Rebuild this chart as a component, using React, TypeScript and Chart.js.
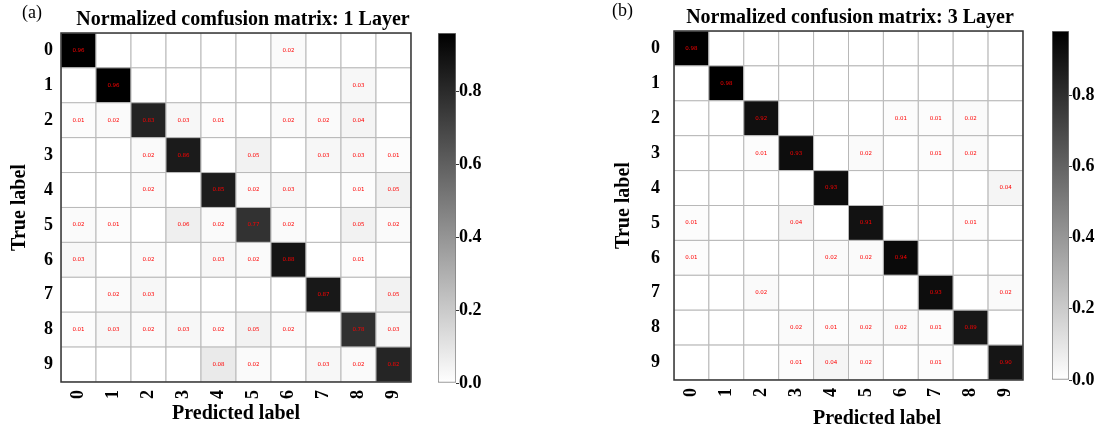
import React, { useEffect, useRef } from 'react';
import { Chart, registerables } from 'chart.js';

Chart.register(...registerables);

// ---------- data ----------
const classLabels = ['0', '1', '2', '3', '4', '5', '6', '7', '8', '9'];

// rows = true label, columns = predicted label
const layer1Matrix: number[][] = [
  [0.96, 0, 0, 0, 0, 0, 0.02, 0, 0, 0],
  [0, 0.96, 0, 0, 0, 0, 0, 0, 0.03, 0],
  [0.01, 0.02, 0.83, 0.03, 0.01, 0, 0.02, 0.02, 0.04, 0],
  [0, 0, 0.02, 0.86, 0, 0.05, 0, 0.03, 0.03, 0.01],
  [0, 0, 0.02, 0, 0.85, 0.02, 0.03, 0, 0.01, 0.05],
  [0.02, 0.01, 0, 0.06, 0.02, 0.77, 0.02, 0, 0.05, 0.02],
  [0.03, 0, 0.02, 0, 0.03, 0.02, 0.88, 0, 0.01, 0],
  [0, 0.02, 0.03, 0, 0, 0, 0, 0.87, 0, 0.05],
  [0.01, 0.03, 0.02, 0.03, 0.02, 0.05, 0.02, 0, 0.78, 0.03],
  [0, 0, 0, 0, 0.08, 0.02, 0, 0.03, 0.02, 0.82],
];

const layer3Matrix: number[][] = [
  [0.98, 0, 0, 0, 0, 0, 0, 0, 0, 0],
  [0, 0.98, 0, 0, 0, 0, 0, 0, 0, 0],
  [0, 0, 0.92, 0, 0, 0, 0.01, 0.01, 0.02, 0],
  [0, 0, 0.01, 0.93, 0, 0.02, 0, 0.01, 0.02, 0],
  [0, 0, 0, 0, 0.93, 0, 0, 0, 0, 0.04],
  [0.01, 0, 0, 0.04, 0, 0.91, 0, 0, 0.01, 0],
  [0.01, 0, 0, 0, 0.02, 0.02, 0.94, 0, 0, 0],
  [0, 0, 0.02, 0, 0, 0, 0, 0.93, 0, 0.02],
  [0, 0, 0, 0.02, 0.01, 0.02, 0.02, 0.01, 0.89, 0],
  [0, 0, 0, 0.01, 0.04, 0.02, 0, 0.01, 0, 0.90],
];

const layer1Max = 0.96;
const layer3Max = 0.98;
const colorbarTicks = [0, 0.2, 0.4, 0.6, 0.8];

const layer1Title = 'Normalized comfusion matrix: 1 Layer';
const layer3Title = 'Normalized confusion matrix: 3 Layer';
const xAxisTitle = 'Predicted label';
const yAxisTitle = 'True label';

// linear grey colormap: white (0) -> black (max)
const greyStops = ['#ffffff', '#000000'];

// ---------- helpers ----------
const SERIF = "'Liberation Serif', 'Times New Roman', serif";

function greys(t: number): string {
  const c = Math.max(0, Math.min(1, t));
  const p = c * (greyStops.length - 1);
  const i = Math.min(greyStops.length - 2, Math.floor(p));
  const f = p - i;
  const a = parseInt(greyStops[i].slice(1, 3), 16);
  const b = parseInt(greyStops[i + 1].slice(1, 3), 16);
  const g = Math.round(a + (b - a) * f);
  return `rgb(${g},${g},${g})`;
}

function cellSize(chart: any): number {
  const s = chart.scales && chart.scales.x;
  if (!s) return 10;
  return Math.abs(s.getPixelForValue(1) - s.getPixelForValue(0));
}

const framePlugin = {
  id: 'frame',
  afterDatasetsDraw(chart: any) {
    const a = chart.chartArea;
    const ctx = chart.ctx;
    ctx.save();
    ctx.strokeStyle = '#333333';
    ctx.lineWidth = 1.5;
    ctx.strokeRect(a.left, a.top, a.right - a.left, a.bottom - a.top);
    ctx.restore();
  },
};

const cellTextPlugin = {
  id: 'cellText',
  afterDatasetsDraw(chart: any) {
    const meta = chart.getDatasetMeta(0);
    const raws = chart.data.datasets[0].data as any[];
    const ctx = chart.ctx;
    ctx.save();
    ctx.font = "5.5px 'DejaVu Sans', sans-serif";
    ctx.fillStyle = '#ff0000';
    ctx.textAlign = 'center';
    ctx.textBaseline = 'middle';
    meta.data.forEach((el: any, k: number) => {
      const r = raws[k];
      if (r && r.v >= 0.01) ctx.fillText(r.v.toFixed(2), el.x, el.y);
    });
    ctx.restore();
  },
};

type MatrixProps = {
  matrix: number[][];
  vmax: number;
  left: number;
  width: number;
  padTop: number;
  padRight: number;
  yAxisWidth: number;
  xAxisHeight: number;
  yTickPad: number;
  yTitlePad: number;
  showXTitle: boolean;
};

function MatrixChart(p: MatrixProps) {
  const ref = useRef<HTMLCanvasElement | null>(null);
  useEffect(() => {
    if (!ref.current) return;
    const pts: { x: number; y: number; v: number }[] = [];
    p.matrix.forEach((row, i) => row.forEach((v, j) => pts.push({ x: j, y: i, v })));
    const tickFont = { family: SERIF, size: 18, weight: 'bold' as const };
    const titleFont = { family: SERIF, size: 20, weight: 'bold' as const };
    const radius = (ctx: any) => cellSize(ctx.chart) / Math.SQRT2;
    const chart = new Chart(ref.current, {
      type: 'scatter',
      data: {
        datasets: [
          {
            data: pts as any,
            pointStyle: 'rect',
            pointRadius: radius,
            pointHoverRadius: radius,
            backgroundColor: (ctx: any) => (ctx.raw ? greys(ctx.raw.v / p.vmax) : '#ffffff'),
            borderColor: '#b8b8b8',
            borderWidth: 1,
            hoverBorderWidth: 1,
          } as any,
        ],
      },
      options: {
        animation: false,
        responsive: false,
        events: [],
        layout: { padding: { left: 0, top: p.padTop, right: p.padRight, bottom: 0 } },
        plugins: { legend: { display: false }, tooltip: { enabled: false }, title: { display: false } },
        scales: {
          x: {
            type: 'linear',
            min: -0.5,
            max: 9.5,
            afterBuildTicks: (s: any) => {
              s.ticks = classLabels.map((_, k) => ({ value: k }));
            },
            afterFit: (s: any) => {
              s.height = p.xAxisHeight;
            },
            grid: { display: false, drawTicks: false },
            border: { display: false },
            ticks: {
              autoSkip: false,
              minRotation: 90,
              maxRotation: 90,
              padding: 8,
              color: '#000000',
              font: tickFont,
              callback: (v: any) => classLabels[Number(v)],
            },
            title: {
              display: p.showXTitle,
              text: xAxisTitle,
              color: '#000000',
              font: titleFont,
              padding: { top: 0, bottom: 6 },
            },
          },
          y: {
            type: 'linear',
            reverse: true,
            min: -0.5,
            max: 9.5,
            afterBuildTicks: (s: any) => {
              s.ticks = classLabels.map((_, k) => ({ value: k }));
            },
            afterFit: (s: any) => {
              s.width = p.yAxisWidth;
            },
            grid: { display: false, drawTicks: false },
            border: { display: false },
            ticks: {
              autoSkip: false,
              padding: p.yTickPad,
              color: '#000000',
              font: tickFont,
              callback: (v: any) => classLabels[Number(v)],
            },
            title: {
              display: true,
              text: yAxisTitle,
              color: '#000000',
              font: titleFont,
              padding: { top: p.yTitlePad, bottom: 0 },
            },
          },
        },
      } as any,
      plugins: [cellTextPlugin, framePlugin],
    });
    return () => chart.destroy();
  }, []);
  return (
    <canvas
      ref={ref}
      width={p.width}
      height={432}
      style={{ position: 'absolute', left: p.left, top: 0, width: p.width, height: 432 }}
    />
  );
}

type BarProps = { vmax: number; left: number; padTop: number; padBottom: number; barWidth: number; axisWidth: number };

function ColorBar(p: BarProps) {
  const ref = useRef<HTMLCanvasElement | null>(null);
  const width = 8 + p.barWidth + p.axisWidth;
  useEffect(() => {
    if (!ref.current) return;
    const chart = new Chart(ref.current, {
      type: 'bar',
      data: {
        labels: [''],
        datasets: [
          {
            data: [p.vmax],
            backgroundColor: (ctx: any) => {
              const c = ctx.chart;
              const a = c.chartArea;
              if (!a) return '#888888';
              const g = c.ctx.createLinearGradient(0, a.bottom, 0, a.top);
              greyStops.forEach((col, k) => g.addColorStop(k / (greyStops.length - 1), col));
              return g;
            },
            borderColor: '#7a7a7a',
            borderWidth: 1,
            borderSkipped: false,
            barPercentage: 1,
            categoryPercentage: 1,
          } as any,
        ],
      },
      options: {
        animation: false,
        responsive: false,
        events: [],
        layout: { padding: { left: 8, top: p.padTop, right: 0, bottom: p.padBottom } },
        plugins: { legend: { display: false }, tooltip: { enabled: false } },
        scales: {
          x: { display: false },
          y: {
            position: 'right',
            min: 0,
            max: p.vmax,
            afterBuildTicks: (s: any) => {
              s.ticks = colorbarTicks.map((v) => ({ value: v }));
            },
            afterFit: (s: any) => {
              s.width = p.axisWidth;
            },
            grid: { drawOnChartArea: false, drawTicks: true, tickLength: 3, color: '#333333', tickColor: '#333333' },
            border: { display: false },
            ticks: {
              padding: 0,
              color: '#000000',
              font: { family: SERIF, size: 18, weight: 'bold' },
              callback: (v: any) => Number(v).toFixed(1),
            },
          },
        },
      } as any,
    });
    return () => chart.destroy();
  }, []);
  return (
    <canvas
      ref={ref}
      width={width}
      height={432}
      style={{ position: 'absolute', left: p.left, top: 0, width, height: 432 }}
    />
  );
}

const textBase: React.CSSProperties = {
  position: 'absolute',
  fontFamily: SERIF,
  color: '#000',
  whiteSpace: 'nowrap',
  lineHeight: '20px',
};

export default function App() {
  return (
    <div
      style={{
        position: 'absolute',
        left: 0,
        top: 0,
        width: 1105,
        height: 432,
        overflow: 'hidden',
        background: '#ffffff',
      }}
    >
      <MatrixChart
        matrix={layer1Matrix}
        vmax={layer1Max}
        left={0}
        width={430}
        padTop={33}
        padRight={19}
        yAxisWidth={61}
        xAxisHeight={50}
        yTickPad={8}
        yTitlePad={8}
        showXTitle={true}
      />
      <ColorBar vmax={layer1Max} left={430} padTop={33} padBottom={49} barWidth={18} axisWidth={40} />
      <MatrixChart
        matrix={layer3Matrix}
        vmax={layer3Max}
        left={600}
        width={440}
        padTop={31}
        padRight={17}
        yAxisWidth={74}
        xAxisHeight={52}
        yTickPad={14}
        yTitlePad={12}
        showXTitle={false}
      />
      <ColorBar vmax={layer3Max} left={1044} padTop={31} padBottom={52} barWidth={17} axisWidth={36} />

      <div style={{ ...textBase, left: 22, top: 2, fontSize: 18 }}>(a)</div>
      <div style={{ ...textBase, left: 243, top: 8, fontSize: 20, fontWeight: 'bold', transform: 'translateX(-50%)' }}>
        {layer1Title}
      </div>
      <div style={{ ...textBase, left: 612, top: 0, fontSize: 18 }}>(b)</div>
      <div style={{ ...textBase, left: 850, top: 6, fontSize: 20, fontWeight: 'bold', transform: 'translateX(-50%)' }}>
        {layer3Title}
      </div>
      <div style={{ ...textBase, left: 877, top: 407, fontSize: 20, fontWeight: 'bold', transform: 'translateX(-50%)' }}>
        {xAxisTitle}
      </div>
    </div>
  );
}
